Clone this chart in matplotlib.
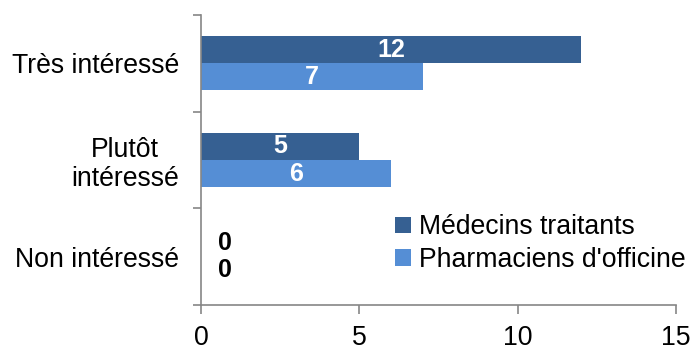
import numpy as np
import matplotlib
matplotlib.use("Agg")
import matplotlib.pyplot as plt

categories = ["Très intéressé", "Plutôt\nintéressé", "Non intéressé"]
series_names = ["Médecins traitants", "Pharmaciens d'officine"]
medecins = [12, 5, 0]
pharmaciens = [7, 6, 0]
colors = ["#366092", "#558ED5"]

plt.rcParams["font.family"] = ["Liberation Sans", "DejaVu Sans"]

fig = plt.figure(figsize=(6.92, 3.49), dpi=100)
ax = fig.add_axes([0.2905, 0.126, 0.686, 0.831])

y = np.arange(len(categories))
h = 0.28
for vals, off, col, name in [(medecins, -h / 2, colors[0], series_names[0]),
                             (pharmaciens, h / 2, colors[1], series_names[1])]:
    bars = ax.barh(y + off, vals, height=h, color=col, label=name)
    for b, v in zip(bars, vals):
        cy = b.get_y() + b.get_height() / 2
        if v > 0:
            ax.text(v / 2, cy, str(v), ha="center", va="center",
                    color="white", fontsize=18, fontweight="bold")
        else:
            ax.annotate(str(v), (0, cy), xytext=(17, 0), textcoords="offset points",
                        ha="center", va="center", color="black",
                        fontsize=18, fontweight="bold")

ax.set_xlim(0, 15)
ax.set_ylim(2.5, -0.5)
ax.set_xticks([0, 5, 10, 15])
ax.set_yticks(y)
ax.set_yticklabels(categories, fontsize=19.2, linespacing=1.15, multialignment="center")
ax.set_yticks([-0.5, 0.5, 1.5, 2.5], minor=True)
ax.tick_params(axis="y", which="major", length=0, pad=16)
ax.tick_params(axis="y", which="minor", length=6, color="#868686", width=1.2)
ax.tick_params(axis="x", length=6.5, color="#868686", width=1.2, pad=8, labelsize=19.2)

for s in ["top", "right"]:
    ax.spines[s].set_visible(False)
for s in ["left", "bottom"]:
    ax.spines[s].set_color("#868686")
    ax.spines[s].set_linewidth(1.2)

ax.legend(loc="lower right", bbox_to_anchor=(1.006, 0.187), bbox_transform=fig.transFigure,
          frameon=False, fontsize=19.2, handlelength=0.6, handleheight=0.6,
          handletextpad=0.3, labelspacing=0.25, borderaxespad=0)

fig.savefig("out.png", dpi=100)
